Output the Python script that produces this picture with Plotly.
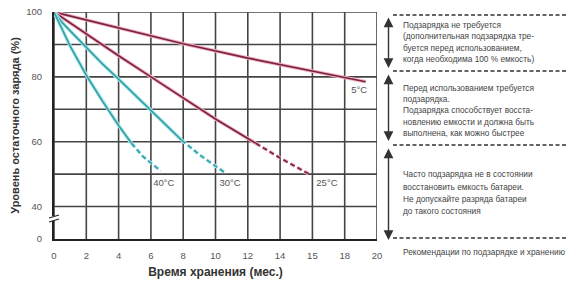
import plotly.graph_objects as go

# ---------------- data ----------------
months_5 = [0, 4, 8, 12, 16, 19.3]
charge_5 = [100, 95, 90.2, 85.8, 81.8, 78.5]

months_25 = [0, 2, 4, 6, 8, 10, 12, 12.5]
charge_25 = [100, 93.2, 86.5, 80, 73.5, 67, 61, 59.5]
months_25_d = [12.5, 14, 15.8]
charge_25_d = [59.5, 55, 50]

months_30 = [0, 0.5, 1, 2, 3, 4, 5, 6, 7, 7.9]
charge_30 = [100, 96.8, 94.2, 89, 84, 79.3, 74.5, 69.5, 64.7, 60.5]
months_30_d = [7.9, 9, 10.6]
charge_30_d = [60.5, 56, 50.4]

months_40 = [0, 0.5, 1, 2, 3, 4, 4.8]
charge_40 = [100, 94.5, 89.5, 80.5, 72.5, 65, 59.5]
months_40_d = [4.8, 5.5, 6.6]
charge_40_d = [59.5, 55.5, 51]

curve_labels = ["5°C", "25°C", "30°C", "40°C"]
label_x = [18.9, 16.9, 10.9, 6.8]
label_y = [75.8, 47.2, 47.2, 47.2]

x_ticks = [0, 2, 4, 6, 8, 10, 12, 14, 16, 18, 20]
x_ticktext = ["0", "2", "4", "6", "8", "10", "12", "14", "15", "18", "20"]
y_ticks = [30, 40, 60, 80, 100]
y_ticktext = ["0", "40", "60", "80", "100"]
y_grid = [40, 50, 60, 70, 80, 90, 100]

x_title = "Время хранения (мес.)"
y_title = "Уровень остаточного заряда (%)"

panel_1 = ["Подзарядка не требуется",
           "(дополнительная подзарядка тре-",
           "буется перед использованием,",
           "когда необходима 100 % емкость)"]
panel_2 = ["Перед использованием требуется",
           "подзарядка.",
           "Подзарядка способствует восста-",
           "новлению емкости и должна быть",
           "выполнена, как можно быстрее"]
panel_3 = ["Часто подзарядка не в состоянии",
           "восстановить емкость батареи.",
           "Не допускайте разряда батареи",
           "до такого состояния"]
footer = "Рекомендации по подзарядке и хранению"

# ---------------- layout helpers ----------------
W, H = 570, 282
L, R, T, B = 54, 193, 12, 43
PW, PH = W - L - R, H - T - B
X_RANGE = [0, 20]
Y_RANGE = [30, 100]


def px(xp):
    return (xp - L) / PW


def py(yp):
    return (H - B - yp) / PH


RED, RED_HALO = "#7a2440", "#f3b3c2"
TEAL, TEAL_HALO = "#3a9ea2", "#a9ecf2"
GRID = "#444444"

fig = go.Figure()

# grid, built from the tick arrays and drawn first so the curves sit on top
gx, gy = [], []
for xv in x_ticks:
    gx += [xv, xv, None]
    gy += [Y_RANGE[0], Y_RANGE[1], None]
for yv in y_grid:
    gx += [X_RANGE[0], X_RANGE[1], None]
    gy += [yv, yv, None]
fig.add_trace(go.Scatter(x=gx, y=gy, mode="lines", line=dict(color=GRID, width=1.6),
                         connectgaps=False, hoverinfo="skip", showlegend=False))


def add_curve(x, y, core, halo, dash=None):
    fig.add_trace(go.Scatter(x=x, y=y, mode="lines", line=dict(color=halo, width=3.6, dash=dash),
                             hoverinfo="skip", showlegend=False))
    fig.add_trace(go.Scatter(x=x, y=y, mode="lines", line=dict(color=core, width=1.7, dash=dash),
                             hoverinfo="skip", showlegend=False))


add_curve(months_5, charge_5, RED, RED_HALO)
add_curve(months_25, charge_25, RED, RED_HALO)
add_curve(months_25_d, charge_25_d, RED, RED_HALO, dash="5px,3px")
add_curve(months_30, charge_30, TEAL, TEAL_HALO)
add_curve(months_30_d, charge_30_d, TEAL, TEAL_HALO, dash="5px,3px")
add_curve(months_40, charge_40, TEAL, TEAL_HALO)
add_curve(months_40_d, charge_40_d, TEAL, TEAL_HALO, dash="5px,3px")

fig.add_trace(go.Scatter(x=label_x, y=label_y, mode="text", text=curve_labels,
                         textfont=dict(family="Liberation Sans", size=9.5, color="#555"),
                         hoverinfo="skip", showlegend=False))

fig.update_layout(
    width=W, height=H,
    margin=dict(l=L, r=R, t=T, b=B, autoexpand=False),
    paper_bgcolor="white", plot_bgcolor="white",
    font=dict(family="Liberation Sans", color="#444"),
    xaxis=dict(range=X_RANGE, tickmode="array", tickvals=x_ticks, ticktext=x_ticktext,
               showgrid=False, showline=True, linecolor="#222", linewidth=2, zeroline=False,
               ticks="outside", ticklen=7, tickcolor="rgba(0,0,0,0)",
               tickfont=dict(size=9.5, color="#555"),
               title=dict(text="<b>" + x_title + "</b>", font=dict(size=12, color="#333"), standoff=7)),
    yaxis=dict(range=Y_RANGE, tickmode="array", tickvals=y_ticks, ticktext=y_ticktext,
               showgrid=False, zeroline=False,
               showline=True, linecolor="#222", linewidth=2,
               ticks="outside", ticklen=8, tickcolor="rgba(0,0,0,0)",
               tickfont=dict(size=9.5, color="#555"),
               title=dict(text="<b>" + y_title + "</b>", font=dict(size=11, color="#333"), standoff=4)),
)

shapes = []
# axis break marks
shapes.append(dict(type="rect", xref="paper", yref="paper", x0=px(50), x1=px(58), y0=py(221), y1=py(216),
                   fillcolor="white", line=dict(width=0)))
for yy in (216.5, 220.5):
    shapes.append(dict(type="line", xref="paper", yref="paper", x0=px(49), x1=px(59), y0=py(yy + 1.5), y1=py(yy - 1.5),
                       line=dict(color="#222", width=1.2)))
# dashed separators on the right panel
for yy in (15, 71, 145, 238):
    shapes.append(dict(type="line", xref="paper", yref="paper", x0=px(393), x1=px(566), y0=py(yy), y1=py(yy),
                       line=dict(color="#333", width=1.5, dash="4px,2.5px")))
fig.update_layout(shapes=shapes)

ann = []
# double headed arrows
for top, bot in ((16, 68), (73, 141), (147, 240)):
    ann.append(dict(xref="paper", yref="paper", x=px(388.5), y=py(bot), ax=0, ay=-(bot - top),
                    axref="pixel", ayref="pixel", text="", showarrow=True,
                    arrowhead=2, startarrowhead=2, arrowside="end+start",
                    arrowsize=1.4, startarrowsize=1.4, arrowwidth=1.4, arrowcolor="#333"))


def add_lines(lines, ys):
    for t, yy in zip(lines, ys):
        ann.append(dict(xref="paper", yref="paper", x=px(400.5), y=py(yy), text=t, showarrow=False,
                        xanchor="left", yanchor="middle",
                        font=dict(family="Liberation Sans", size=8.3, color="#444")))


add_lines(panel_1, [25, 36.5, 47.8, 59.2])
add_lines(panel_2, [87.8, 99, 110.3, 121.7, 133.2])
add_lines(panel_3, [174, 186.5, 199, 211])
add_lines([footer], [252.5])
fig.update_layout(annotations=ann)

fig.write_html("out.html", config={"displayModeBar": False},
               post_script="document.body.style.margin='0';document.body.style.overflow='hidden';")
